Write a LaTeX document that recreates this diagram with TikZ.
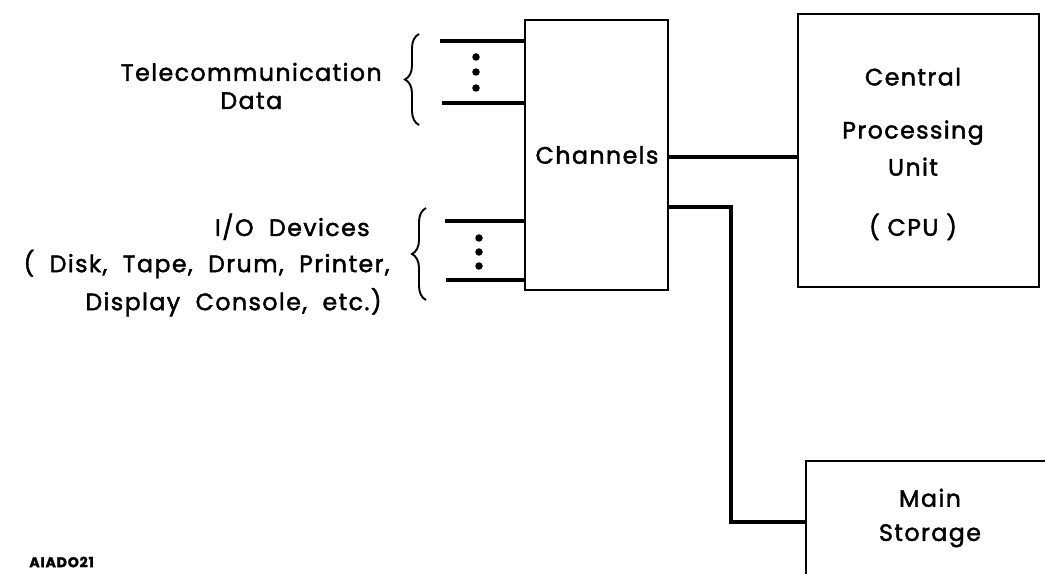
\documentclass[tikz,border=0pt]{standalone}
\usepackage{fontspec}
\setmainfont[LetterSpace=6,FakeBold=1.8]{Poppins}
\usetikzlibrary{positioning,decorations.pathreplacing,calc}
\newcommand\widewords{\spaceskip=0.65em plus 0.1em\xspaceskip=0.9em plus 0.1em\relax}
\tikzset{
  x=0.02cm,y=-0.02cm,
  unitbox/.style={draw,line width=1.1pt,minimum width=#1,inner sep=0pt},
  wire/.style={line width=1.8pt},
  curly/.style={line width=1.1pt,decorate,decoration={brace,amplitude=0.28cm,aspect=0.5}},
  lbl/.style={font=\fontsize{13.5}{16}\selectfont,align=center,inner sep=0pt},
  dot/.style={circle,fill,inner sep=0pt,minimum size=0.15cm},
}
\begin{document}
\begin{tikzpicture}
  \clip (0,0) rectangle (1045,574);
  % boxes
  \node[unitbox=2.86cm,minimum height=5.4cm] (chan) at (596.5,155) {};
  \node[lbl] (chantxt) at (597,155) {Channels};
  \node[unitbox=4.82cm,minimum height=5.46cm] (cpu) at (918.5,150.5) {};
  \node[lbl] (cputxt) at (913,154) {Central\\[0.5cm]Processing\\[0.18cm]Unit\\[0.64cm]( CPU )};
  \node[unitbox=5.4cm,minimum height=3cm,anchor=north west] (store) at (805,460) {};
  \node[lbl] (storetxt) at (930,518) {Main\\[0.12cm]Storage};
  % inputs
  \coordinate (t1) at (440,41);
  \coordinate (t2) at (442,103);
  \coordinate (d1) at (445,221);
  \coordinate (d2) at (446,280);
  \foreach \p in {t1,t2,d1,d2} \draw[wire] (\p) -- (\p -| chan.west);
  \foreach \y in {57,72,88} \node[dot] (td\y) at (476,\y) {};
  \foreach \y in {238,252,266} \node[dot] (dd\y) at (479,\y) {};
  \draw[curly] (419,125) -- (419,34);
  \draw[curly] (426,300) -- (426,208);
  \node[lbl,anchor=east] (tele) at (382,86) {Telecommunication\\Data};
  \node[lbl,align=right,anchor=east,font=\fontsize{13.5}{16}\selectfont\widewords] (io) at (390,265)
    {I/O Devices\hspace*{0.4cm}\\[0.16cm]( Disk, Tape, Drum, Printer,\\[0.16cm]Display Console, etc.)\hspace*{0.16cm}};
  % outputs
  \coordinate (c1) at (668,157);
  \coordinate (s1) at (668,207);
  \coordinate (s2) at (731,522);
  \draw[wire] (c1) -- (c1 -| cpu.west);
  \draw[wire] (s1) -| (s2) -- (s2 -| store.west);
  \node[font=\fontsize{8}{9}\selectfont\bfseries,anchor=west,inner sep=0pt] (tag) at (29,562) {AIADO21};
\end{tikzpicture}
\end{document}
